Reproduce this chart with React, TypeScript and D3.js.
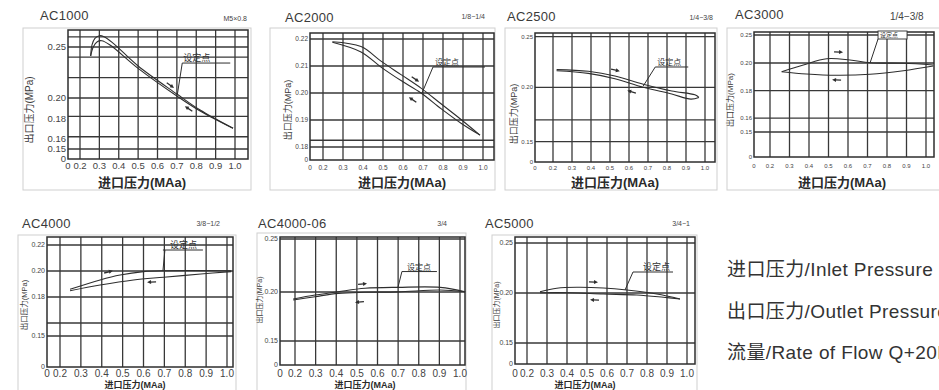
import React from "react";
import * as d3 from "d3";

type Pt = [number, number];

// ---------- shared axis data ----------
const xTickValues = [0, 0.2, 0.3, 0.4, 0.5, 0.6, 0.7, 0.8, 0.9, 1.0];
const xTickLabels = ["0", "0.2", "0.3", "0.4", "0.5", "0.6", "0.7", "0.8", "0.9", "1.0"];
const xGridValues = [0.2, 0.3, 0.4, 0.5, 0.6, 0.7, 0.8, 0.9, 1.0];

const modelNames = ["AC1000", "AC2000", "AC2500", "AC3000", "AC4000", "AC4000-06", "AC5000"];
const portSizes = ["M5×0.8", "1/8−1/4", "1/4−3/8", "1/4−3/8", "3/8−1/2", "3/4", "3/4−1"];

const yAxisTitle = "出口压力(MPa)";
const xAxisTitle = "进口压力(MAa)";
const setPointText = "设定点";

const legendLines = ["进口压力/Inlet Pressure", "出口压力/Outlet Pressure", "流量/Rate of Flow Q+20L/min"];

// ---------- AC1000 ----------
const ac1000YTicks = [0.25, 0.2, 0.18, 0.16, 0.15, 0];
const ac1000YTickLabels = ["0.25", "0.20", "0.18", "0.16", "0.15", "0"];
const ac1000YGrid = [0.26, 0.25, 0.24, 0.22, 0.2, 0.182, 0.162, 0.15];
const ac1000Upper: Pt[] = [[0.255, 0.2412], [0.262, 0.252], [0.277, 0.2585], [0.3, 0.2611], [0.324, 0.2601], [0.372, 0.2536], [0.5, 0.2314], [0.7, 0.2039], [0.82, 0.1882], [0.99, 0.1703]];
const ac1000Lower: Pt[] = [[0.255, 0.2412], [0.269, 0.2503], [0.289, 0.2552], [0.312, 0.2562], [0.355, 0.252], [0.5, 0.2291], [0.7, 0.202], [0.82, 0.1873], [0.99, 0.1703]];
const ac1000SetPoint: Pt = [0.702, 0.2029];
const ac1000Arrows: Pt[] = [[0.6645, 0.2127], [0.7626, 0.1892]];

// ---------- AC2000 ----------
const ac2000YTicks = [0.22, 0.21, 0.2, 0.19, 0.18, 0];
const ac2000YTickLabels = ["0.22", "0.21", "0.20", "0.19", "0.18", "0"];
const ac2000YGrid = [0.22, 0.21, 0.2, 0.19, 0.1825, 0.18];
const ac2000Upper: Pt[] = [[0.247, 0.219], [0.39, 0.2172], [0.49, 0.2118], [0.59, 0.2068], [0.69, 0.2018], [0.79, 0.196], [0.89, 0.1902], [0.985, 0.1844]];
const ac2000Lower: Pt[] = [[0.247, 0.2188], [0.39, 0.2152], [0.49, 0.2096], [0.59, 0.2046], [0.69, 0.2], [0.79, 0.1942], [0.89, 0.1888], [0.985, 0.1844]];
const ac2000SetPoint: Pt = [0.695, 0.2];
const ac2000Arrows: Pt[] = [[0.66, 0.2052], [0.65, 0.1974]];

// ---------- AC2500 ----------
const ac2500YTicks = [0.25, 0.2, 0.15, 0];
const ac2500YTickLabels = ["0.25", "0.20", "0.15", "0"];
const ac2500YGrid = [0.25, 0.2, 0.17, 0.15];
const ac2500Upper: Pt[] = [[0.219, 0.2175], [0.386, 0.2158], [0.526, 0.2112], [0.675, 0.203], [0.825, 0.1966], [0.947, 0.1931], [0.968, 0.1907]];
const ac2500Lower: Pt[] = [[0.219, 0.2164], [0.386, 0.2138], [0.526, 0.2085], [0.675, 0.2], [0.825, 0.1938], [0.926, 0.1891], [0.968, 0.1907]];
const ac2500SetPoint: Pt = [0.675, 0.2013];
const ac2500Arrows: Pt[] = [[0.526, 0.2171], [0.616, 0.1957]];

// ---------- AC3000 ----------
const ac3000YTicks = [0.25, 0.2, 0.18, 0.16, 0.15, 0];
const ac3000YTickLabels = ["0.25", "0.20", "0.18", "0.16", "0.15", "0"];
const ac3000YGrid = [0.25, 0.2, 0.18, 0.16, 0.15];
const ac3000Upper: Pt[] = [[0.26, 0.1937], [0.371, 0.1986], [0.491, 0.2077], [0.61, 0.2054], [0.713, 0.2005], [0.884, 0.1998], [1.037, 0.1986]];
const ac3000Lower: Pt[] = [[0.26, 0.1937], [0.388, 0.192], [0.542, 0.1911], [0.713, 0.1918], [0.884, 0.1944], [1.037, 0.1978]];
const ac3000SetPoint: Pt = [0.713, 0.2];
const ac3000Arrows: Pt[] = [[0.549, 0.2196], [0.544, 0.1877]];

// ---------- AC4000 ----------
const ac4000YTicks = [0.22, 0.2, 0.18, 0.15, 0];
const ac4000YTickLabels = ["0.22", "0.20", "0.18", "0.15", "0"];
const ac4000YGrid = [0.22, 0.2, 0.18, 0.16, 0.15];
const ac4000Upper: Pt[] = [[0.248, 0.1859], [0.392, 0.1931], [0.488, 0.1969], [0.6, 0.1995], [0.697, 0.2002], [1.02, 0.2002]];
const ac4000Lower: Pt[] = [[0.248, 0.1848], [0.392, 0.1892], [0.552, 0.1931], [0.697, 0.1952], [0.875, 0.1977], [1.02, 0.1995]];
const ac4000SetPoint: Pt = [0.693, 0.2];
const ac4000Arrows: Pt[] = [[0.43, 0.1992], [0.641, 0.1915]];

// ---------- AC4000-06 ----------
const ac400006YTicks = [0.25, 0.2, 0.15, 0];
const ac400006YTickLabels = ["0.25", "0.20", "0.15", "0"];
const ac400006YGrid = [0.25, 0.2, 0.15];
const ac400006Upper: Pt[] = [[0.176, 0.1929], [0.297, 0.1969], [0.41, 0.2003], [0.54, 0.2035], [0.7, 0.2044], [0.904, 0.2044], [1.025, 0.2003]];
const ac400006Lower: Pt[] = [[0.176, 0.1918], [0.297, 0.1952], [0.41, 0.1986], [0.54, 0.1997], [0.7, 0.2001], [0.904, 0.2019], [1.025, 0.2003]];
const ac400006SetPoint: Pt = [0.699, 0.2042];
const ac400006Arrows: Pt[] = [[0.525, 0.2075], [0.515, 0.1898]];

// ---------- AC5000 ----------
const ac5000YTicks = [0.25, 0.2, 0.15, 0];
const ac5000YTickLabels = ["0.25", "0.20", "0.15", "0"];
const ac5000YGrid = [0.25, 0.2, 0.15];
const ac5000Upper: Pt[] = [[0.265, 0.2013], [0.349, 0.2047], [0.449, 0.2057], [0.582, 0.205], [0.699, 0.203], [0.849, 0.199], [0.965, 0.194]];
const ac5000Lower: Pt[] = [[0.265, 0.2003], [0.415, 0.2003], [0.582, 0.199], [0.749, 0.198], [0.882, 0.1957], [0.965, 0.194]];
const ac5000SetPoint: Pt = [0.69, 0.203];
const ac5000Arrows: Pt[] = [[0.53, 0.211], [0.54, 0.193]];

interface PanelData {
  name: string;
  port: string;
  yTicks: number[];
  yTickLabels: string[];
  yGrid: number[];
  upper: Pt[];
  lower: Pt[];
  setPoint: Pt;
  arrows: Pt[];
}

const panelData: PanelData[] = [
  { name: modelNames[0], port: portSizes[0], yTicks: ac1000YTicks, yTickLabels: ac1000YTickLabels, yGrid: ac1000YGrid, upper: ac1000Upper, lower: ac1000Lower, setPoint: ac1000SetPoint, arrows: ac1000Arrows },
  { name: modelNames[1], port: portSizes[1], yTicks: ac2000YTicks, yTickLabels: ac2000YTickLabels, yGrid: ac2000YGrid, upper: ac2000Upper, lower: ac2000Lower, setPoint: ac2000SetPoint, arrows: ac2000Arrows },
  { name: modelNames[2], port: portSizes[2], yTicks: ac2500YTicks, yTickLabels: ac2500YTickLabels, yGrid: ac2500YGrid, upper: ac2500Upper, lower: ac2500Lower, setPoint: ac2500SetPoint, arrows: ac2500Arrows },
  { name: modelNames[3], port: portSizes[3], yTicks: ac3000YTicks, yTickLabels: ac3000YTickLabels, yGrid: ac3000YGrid, upper: ac3000Upper, lower: ac3000Lower, setPoint: ac3000SetPoint, arrows: ac3000Arrows },
  { name: modelNames[4], port: portSizes[4], yTicks: ac4000YTicks, yTickLabels: ac4000YTickLabels, yGrid: ac4000YGrid, upper: ac4000Upper, lower: ac4000Lower, setPoint: ac4000SetPoint, arrows: ac4000Arrows },
  { name: modelNames[5], port: portSizes[5], yTicks: ac400006YTicks, yTickLabels: ac400006YTickLabels, yGrid: ac400006YGrid, upper: ac400006Upper, lower: ac400006Lower, setPoint: ac400006SetPoint, arrows: ac400006Arrows },
  { name: modelNames[6], port: portSizes[6], yTicks: ac5000YTicks, yTickLabels: ac5000YTickLabels, yGrid: ac5000YGrid, upper: ac5000Upper, lower: ac5000Lower, setPoint: ac5000SetPoint, arrows: ac5000Arrows },
];

// ---------- layout (positions & styles only) ----------
interface Layout {
  frame: [number, number, number, number];
  plot: { l: number; r: number; t: number; b: number };
  xRange: number[];
  yDomain: number[];
  yRange: number[];
  title: { x: number; y: number; size: number };
  spec: { x: number; y: number; size: number; anchor: string };
  xTick: { size: number; y: number };
  yTickSize: number;
  yLabel: { x: number; y: number; size: number };
  xTitle: { x: number; y: number; size: number };
  sp: { dx: number; dy: number; ulL: number; ulR: number; tx: number; size: number; boxed?: boolean };
}

const layouts: Layout[] = [
  {
    frame: [23, 28, 251, 190], plot: { l: 68, r: 248, t: 30, b: 159 },
    xRange: [68, 80, 235], yDomain: [0, 0.15, 0.25], yRange: [159, 149, 47],
    title: { x: 40, y: 20, size: 13 }, spec: { x: 247, y: 21, size: 7, anchor: "end" },
    xTick: { size: 9.5, y: 169 }, yTickSize: 9.5, yLabel: { x: 33, y: 110, size: 10 },
    xTitle: { x: 142, y: 187, size: 13 }, sp: { dx: 5, dy: -32, ulL: 0, ulR: 48, tx: 1, size: 9 },
  },
  {
    frame: [270, 28, 495, 190], plot: { l: 310, r: 494, t: 33, b: 160 },
    xRange: [310, 323, 483], yDomain: [0, 0.18, 0.22], yRange: [160, 147, 39],
    title: { x: 285, y: 22, size: 13 }, spec: { x: 485, y: 19, size: 7, anchor: "end" },
    xTick: { size: 6.5, y: 170 }, yTickSize: 6.5, yLabel: { x: 291, y: 110, size: 9 },
    xTitle: { x: 402, y: 187, size: 13 }, sp: { dx: 11, dy: -26, ulL: 0, ulR: 52, tx: 2, size: 8 },
  },
  {
    frame: [505, 28, 717, 190], plot: { l: 535, r: 715, t: 33, b: 162 },
    xRange: [535, 553, 705], yDomain: [0, 0.15, 0.2, 0.25], yRange: [162, 141.7, 87.3, 36.7],
    title: { x: 507, y: 21, size: 13 }, spec: { x: 713, y: 20, size: 7, anchor: "end" },
    xTick: { size: 6, y: 170 }, yTickSize: 6, yLabel: { x: 517, y: 114, size: 9 },
    xTitle: { x: 615, y: 187, size: 13 }, sp: { dx: 12, dy: -19, ulL: 0, ulR: 33, tx: 2, size: 8 },
  },
  {
    frame: [727, 28, 960, 190], plot: { l: 754, r: 934, t: 32, b: 157 },
    xRange: [754, 770, 926], yDomain: [0, 0.15, 0.2, 0.25], yRange: [157, 132, 63, 35],
    title: { x: 735, y: 19, size: 13 }, spec: { x: 890, y: 20, size: 10, anchor: "start" },
    xTick: { size: 6, y: 168 }, yTickSize: 6, yLabel: { x: 733, y: 100, size: 8 },
    xTitle: { x: 842, y: 187, size: 13 }, sp: { dx: 8, dy: -24, ulL: 0, ulR: 29, tx: 2, size: 6, boxed: true },
  },
  {
    frame: [18, 235, 236, 400], plot: { l: 47, r: 233, t: 237, b: 367 },
    xRange: [47, 60, 227], yDomain: [0, 0.15, 0.22], yRange: [367, 336, 245],
    title: { x: 22, y: 228, size: 13 }, spec: { x: 220, y: 226, size: 7, anchor: "end" },
    xTick: { size: 10, y: 377 }, yTickSize: 7, yLabel: { x: 27, y: 305, size: 7.5 },
    xTitle: { x: 135, y: 388, size: 9 }, sp: { dx: 2, dy: -21, ulL: -2, ulR: 38, tx: 5, size: 9 },
  },
  {
    frame: [257, 233, 466, 400], plot: { l: 280, r: 465, t: 237, b: 365 },
    xRange: [280, 295, 460], yDomain: [0, 0.15, 0.2, 0.25], yRange: [365, 341, 292, 239],
    title: { x: 258, y: 228, size: 13 }, spec: { x: 447, y: 226, size: 7, anchor: "end" },
    xTick: { size: 10, y: 377 }, yTickSize: 7, yLabel: { x: 262, y: 300, size: 7 },
    xTitle: { x: 365, y: 388, size: 9 }, sp: { dx: 4, dy: -16, ulL: 0, ulR: 35, tx: 5, size: 8 },
  },
  {
    frame: [492, 235, 697, 400], plot: { l: 515, r: 695, t: 237, b: 364 },
    xRange: [515, 527, 687], yDomain: [0, 0.15, 0.2, 0.25], yRange: [364, 343, 293, 243],
    title: { x: 485, y: 228, size: 13 }, spec: { x: 690, y: 226, size: 7, anchor: "end" },
    xTick: { size: 10, y: 377 }, yTickSize: 7, yLabel: { x: 499, y: 305, size: 7 },
    xTitle: { x: 585, y: 388, size: 9 }, sp: { dx: 8, dy: -18, ulL: 0, ulR: 40, tx: 10, size: 9 },
  },
];

const FONT = "'Liberation Sans', Arial, 'Noto Sans CJK SC', sans-serif";
const INK = "#2e2e2e";
const GRID = "#383838";

function interpY(curve: Pt[], xv: number): number {
  if (xv <= curve[0][0]) return curve[0][1];
  for (let i = 1; i < curve.length; i++) {
    if (xv <= curve[i][0]) {
      const [x0, y0] = curve[i - 1];
      const [x1, y1] = curve[i];
      return y0 + ((y1 - y0) * (xv - x0)) / (x1 - x0);
    }
  }
  return curve[curve.length - 1][1];
}

function Panel({ d, l }: { d: PanelData; l: Layout }) {
  const x = d3.scaleLinear().domain([0, 0.2, 1.0]).range(l.xRange);
  const y = d3.scaleLinear().domain(l.yDomain).range(l.yRange);
  const line = d3
    .line<Pt>()
    .x((p) => x(p[0]))
    .y((p) => y(p[1]))
    .curve(d3.curveCatmullRom.alpha(0.5));
  const { plot: p, frame: f } = l;
  const spx = x(d.setPoint[0]);
  const spy = y(d.setPoint[1]);
  const lx = spx + l.sp.dx;
  const ly = spy + l.sp.dy;

  return (
    <g>
      <rect x={f[0]} y={f[1]} width={f[2] - f[0]} height={f[3] - f[1]} fill="none" stroke="#cfcfcf" strokeWidth={1} />
      <text x={l.title.x} y={l.title.y} fontSize={l.title.size} fill="#3a3a3a" fontFamily={FONT} letterSpacing={0.3}>
        {d.name}
      </text>
      <text x={l.spec.x} y={l.spec.y} fontSize={l.spec.size} fill="#444" fontFamily={FONT} textAnchor={l.spec.anchor}>
        {d.port}
      </text>
      {/* grid */}
      {xGridValues.map((v) => (
        <line key={"gx" + v} x1={x(v)} x2={x(v)} y1={p.t} y2={p.b} stroke={GRID} strokeWidth={1.3} />
      ))}
      {d.yGrid.map((v) => (
        <line key={"gy" + v} x1={p.l} x2={p.r} y1={y(v)} y2={y(v)} stroke={GRID} strokeWidth={1.3} />
      ))}
      <rect x={p.l} y={p.t} width={p.r - p.l} height={p.b - p.t} fill="none" stroke={INK} strokeWidth={1.5} />
      {/* ticks */}
      {xTickValues.map((v, i) => (
        <text key={"xt" + v} x={x(v)} y={l.xTick.y} fontSize={l.xTick.size} textAnchor="middle" fill="#444" fontFamily={FONT}>
          {xTickLabels[i]}
        </text>
      ))}
      {d.yTicks.map((v, i) => (
        <text key={"yt" + v} x={p.l - 2} y={y(v)} dy="0.35em" fontSize={l.yTickSize} textAnchor="end" fill="#444" fontFamily={FONT}>
          {d.yTickLabels[i]}
        </text>
      ))}
      <text
        transform={`translate(${l.yLabel.x},${l.yLabel.y}) rotate(-90)`}
        fontSize={l.yLabel.size}
        textAnchor="middle"
        fill="#3a3a3a"
        fontFamily={FONT}
      >
        {yAxisTitle}
      </text>
      <text x={l.xTitle.x} y={l.xTitle.y} fontSize={l.xTitle.size} textAnchor="middle" fill="#2a2a2a" fontFamily={FONT} fontWeight={600}>
        {xAxisTitle}
      </text>
      {/* curves */}
      <path d={line(d.upper) || ""} fill="none" stroke={INK} strokeWidth={1.1} />
      <path d={line(d.lower) || ""} fill="none" stroke={INK} strokeWidth={1.1} />
      {/* arrows */}
      {d.arrows.map((a, i) => {
        const ax = x(a[0]);
        const ay = y(a[1]);
        const dxp = x(a[0] + 0.04) - x(a[0] - 0.04);
        const dyp = y(interpY(d.upper, a[0] + 0.04)) - y(interpY(d.upper, a[0] - 0.04));
        const ang = (Math.atan2(dyp, dxp) * 180) / Math.PI;
        const dir = i === 0 ? 1 : -1;
        return (
          <g key={"ar" + i} transform={`translate(${ax},${ay}) rotate(${ang}) scale(${dir},1)`}>
            <line x1={-4} x2={2} y1={0} y2={0} stroke={INK} strokeWidth={1.3} />
            <polygon points="5,0 1,-2 1,2" fill={INK} />
          </g>
        );
      })}
      {/* set point callout */}
      <line x1={lx} y1={ly} x2={spx} y2={spy} stroke={INK} strokeWidth={1} />
      {l.sp.boxed ? (
        <rect x={lx + l.sp.ulL} y={ly - 8} width={l.sp.ulR - l.sp.ulL} height={8} fill="#fff" stroke={INK} strokeWidth={0.9} />
      ) : (
        <line x1={lx + l.sp.ulL} x2={lx + l.sp.ulR} y1={ly} y2={ly} stroke={INK} strokeWidth={1} />
      )}
      <text x={lx + l.sp.tx} y={ly - 2} fontSize={l.sp.size} fill="#333" fontFamily={FONT}>
        {setPointText}
      </text>
    </g>
  );
}

export default function App() {
  const legendBaselines = d3.range(legendLines.length).map((i) => 276 + i * 41.7);
  return (
    <svg
      width={939}
      height={390}
      viewBox="0 0 939 390"
      style={{ position: "absolute", left: 0, top: 0, background: "#fff" }}
    >
      <rect x={0} y={0} width={939} height={390} fill="#fff" />
      {panelData.map((d, i) => (
        <Panel key={d.name} d={d} l={layouts[i]} />
      ))}
      {legendLines.map((t, i) => (
        <text key={t} x={727} y={legendBaselines[i]} fontSize={19} fill="#333" fontFamily={FONT} letterSpacing={0.4}>
          {t}
        </text>
      ))}
    </svg>
  );
}
